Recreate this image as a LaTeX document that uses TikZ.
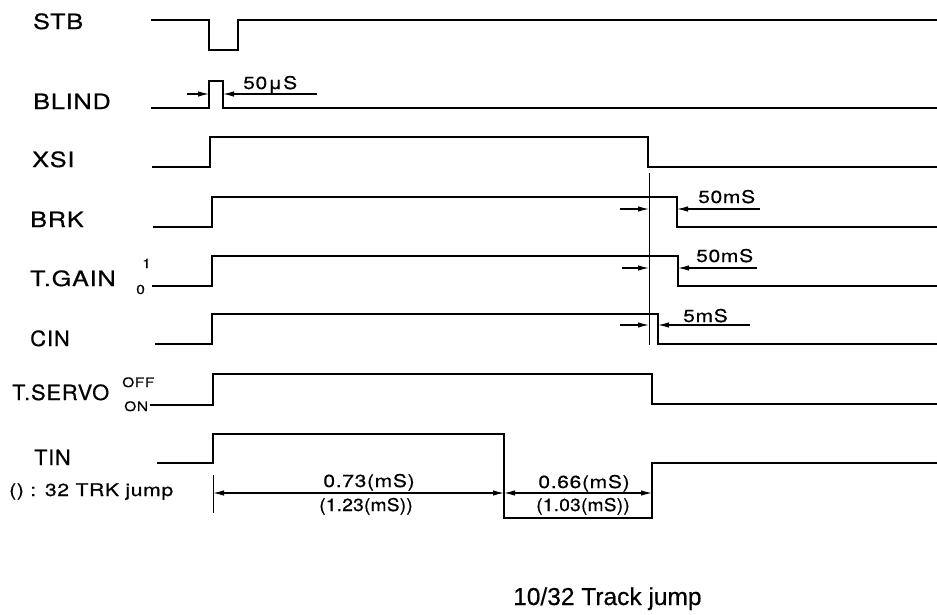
\documentclass[tikz,border=0pt]{standalone}
\usepackage{fontspec}
\setmainfont{TeX Gyre Heros}[FakeStretch=1.2,LetterSpace=4,FakeBold=0.6]
\newfontfamily\titlefont{Liberation Sans}[FakeBold=0.5]
\usetikzlibrary{arrows.meta}
\begin{document}
\begin{tikzpicture}[x=1pt,y=-1pt,
  sig/.style={line width=2.9pt,line join=miter,line cap=butt},
  thinline/.style={line width=1pt},
  tip/.tip={Latex[length=11pt,width=5.5pt]},
  dim/.style={line width=1.2pt,-tip},
  dimboth/.style={line width=1.2pt,tip-tip},
  lbl/.style={anchor=base west,inner sep=0pt,font=\fontsize{21}{21}\selectfont},
  tinylbl/.style={anchor=base west,inner sep=0pt,font=\fontsize{13}{13}\selectfont},
  dlbl/.style={anchor=base west,inner sep=0pt,font=\fontsize{17.5}{17.5}\selectfont},
  dlblc/.style={anchor=base,inner sep=0pt,font=\fontsize{17.5}{17.5}\selectfont}]
\useasboundingbox (0,0) rectangle (937,614);

% signal names
\node[lbl] (lSTB) at (33,29) {STB};
\node[lbl] (lBLIND) at (33,109) {BLIND};
\node[lbl] (lXSI) at (32,167) {XSI};
\node[lbl] (lBRK) at (30,227) {BRK};
\node[lbl] (lTGAIN) at (30,286) {T.GAIN};
\node[tinylbl] (lG1) at (142,268) {1};
\node[tinylbl] (lG0) at (136,294) {0};
\node[lbl] (lCIN) at (30,346) {\addfontfeature{FakeStretch=1.05}CIN};
\node[lbl] (lTSERVO) at (12,400) {\addfontfeature{FakeStretch=1.04}T.SERVO};
\node[tinylbl] (lOFF) at (122,387) {OFF};
\node[tinylbl] (lON) at (124,411) {ON};
\node[lbl] (lTIN) at (34,465) {\addfontfeature{FakeStretch=1.03}TIN};
\node[dlbl] (lnote) at (9,496) {() : 32 TRK jump};

% waveforms
\draw[sig] (151,20) -- (209,20) -- (209,50) -- (238,50) -- (238,20) -- (937,20);
\draw[sig] (151,108) -- (209,108) -- (209,81) -- (223,81) -- (223,108) -- (937,108);
\draw[sig] (152,167) -- (210,167) -- (210,137) -- (648,137) -- (648,167) -- (937,167);
\draw[sig] (153,227) -- (212,227) -- (212,197) -- (677,197) -- (677,227) -- (937,227);
\draw[sig] (152,286) -- (212,286) -- (212,256) -- (678,256) -- (678,286) -- (937,286);
\draw[sig] (155,344) -- (212,344) -- (212,314) -- (658,314) -- (658,344) -- (937,344);
\draw[sig] (150,405) -- (213,405) -- (213,374) -- (652,374) -- (652,404) -- (937,404);
\draw[sig] (157,463) -- (213,463) -- (213,434) -- (504,434) -- (504,518) -- (652,518) -- (652,463) -- (937,463);

% reference lines
\coordinate (refT) at (649,173);
\coordinate (refB) at (649,345);
\draw[thinline] (refT) -- (refB);
\coordinate (tickT) at (213,475);
\coordinate (tickB) at (213,513);
\draw[thinline] (tickT) -- (tickB);

% BLIND 50us
\coordinate (b1) at (187,94); \coordinate (b2) at (209,94);
\coordinate (b3) at (317,94); \coordinate (b4) at (223,94);
\draw[dim] (b1) -- (b2);
\draw[dim] (b3) -- (b4);
\node[dlbl] (tB) at (243,89) {50μS};

% BRK 50ms
\coordinate (k1) at (620,209); \coordinate (k2) at (649,209);
\coordinate (k3) at (760,209); \coordinate (k4) at (677,209);
\draw[dim] (k1) -- (k2);
\draw[dim] (k3) -- (k4);
\node[dlbl] (tK) at (698,203) {50mS};

% T.GAIN 50ms
\coordinate (g1) at (622,268); \coordinate (g2) at (649,268);
\coordinate (g3) at (757,268); \coordinate (g4) at (678,268);
\draw[dim] (g1) -- (g2);
\draw[dim] (g3) -- (g4);
\node[dlbl] (tG) at (696,262) {50mS};

% CIN 5ms
\coordinate (c1) at (620,325); \coordinate (c2) at (649,325);
\coordinate (c3) at (750,325); \coordinate (c4) at (658,325);
\draw[dim] (c1) -- (c2);
\draw[dim] (c3) -- (c4);
\node[dlbl] (tC) at (683,322) {5mS};

% TIN durations
\coordinate (t1) at (213,493); \coordinate (t2) at (504,493); \coordinate (t3) at (652,493);
\draw[dimboth] (t1) -- (t2);
\draw[dimboth] (t2) -- (t3);
\node[dlblc] (tA1) at (369,487) {0.73(mS)};
\node[dlblc] (tA2) at (366,511) {\addfontfeature{FakeStretch=1.1,LetterSpace=1}(1.23(mS))};
\node[dlblc] (tB1) at (584,488) {0.66(mS)};
\node[dlblc] (tB2) at (583,511) {\addfontfeature{FakeStretch=1.1,LetterSpace=1}(1.03(mS))};

% title
\node[anchor=base west,inner sep=0pt,font=\titlefont\fontsize{24.5}{24.5}\selectfont] (title) at (513,605) {10/32 Track jump};
\end{tikzpicture}
\end{document}
